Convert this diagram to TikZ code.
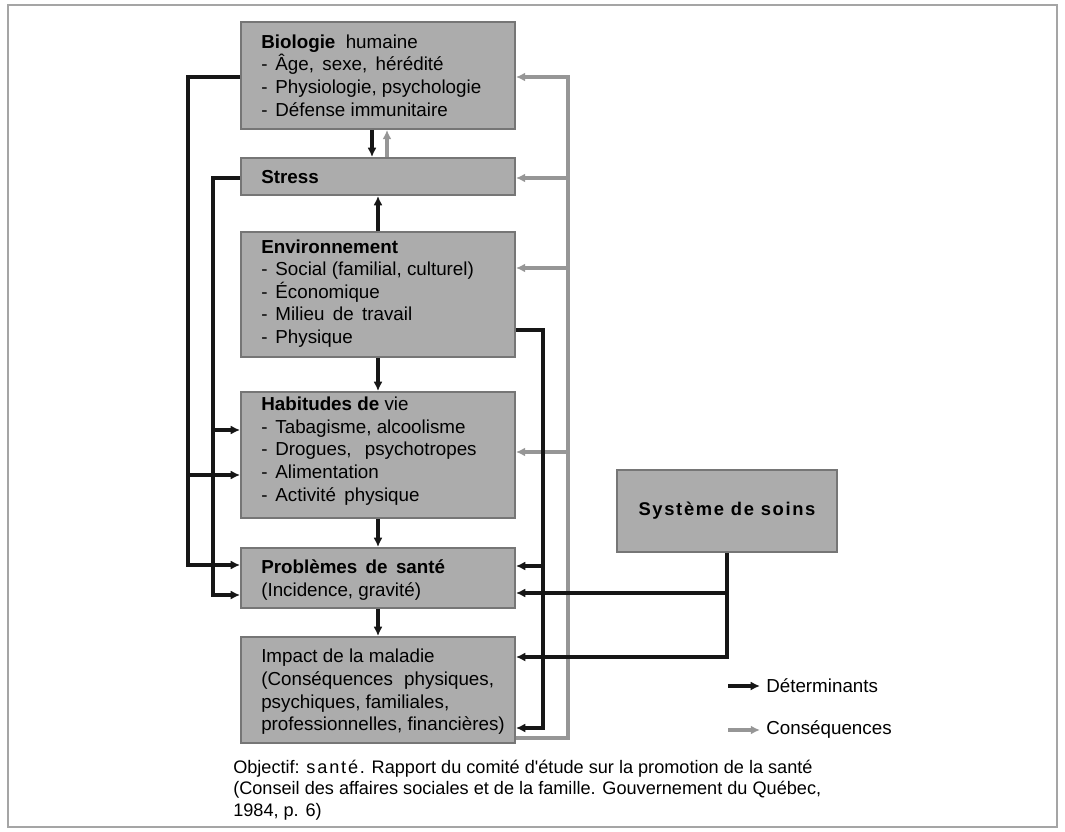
\documentclass[tikz,border=0pt]{standalone}
\usepackage{fontspec}
\setmainfont{Liberation Sans}
\usetikzlibrary{arrows.meta,calc}

\definecolor{boxfill}{RGB}{172,172,172}
\definecolor{boxedge}{RGB}{118,118,118}
\definecolor{detcol}{RGB}{22,22,22}
\definecolor{conscol}{RGB}{150,150,150}
\definecolor{framecol}{RGB}{165,165,165}

\tikzset{
  box/.style={draw=boxedge, fill=boxfill, line width=1.4pt, minimum width=205.5pt, inner sep=0pt},
  boxtext/.style={anchor=west, align=left, inner sep=0pt, font=\fontsize{14.1pt}{16.95pt}\selectfont},
  det/.style={draw=detcol, line width=2.6pt, -{Latex[length=7pt,width=6.8pt]}},
  cons/.style={draw=conscol, line width=2.5pt, -{Latex[length=6.8pt,width=6.6pt]}},
  legtext/.style={anchor=west, inner sep=0pt, font=\fontsize{14.1pt}{16.95pt}\selectfont},
}
\newcommand{\dsh}{-\hspace{0.42em}}

\begin{document}
\begin{tikzpicture}[x=0.75pt,y=-0.75pt]
\useasboundingbox (0,0) rectangle (1065,832);

% outer frame
\draw[framecol, line width=1.5pt] (8,5) rectangle (1057,827);

% determinant boxes
\node[box, minimum height=80.25pt] (bio) at (378,75.5) {};
\node[boxtext] (biot) at (261,75.5) {\textbf{Biologie}\hspace{0.55em}humaine\\
  \dsh Âge,\, sexe,\, hérédité\\
  \dsh Physiologie, psychologie\\
  \dsh Défense immunitaire};

\node[box, minimum height=27.75pt] (stress) at (378,176.5) {};
\node[boxtext] (stresst) at (261,177.5) {\textbf{Stress}};

\node[box, minimum height=93.75pt] (env) at (378,294.5) {};
\node[boxtext] (envt) at (261,293.5) {\textbf{Environnement}\\
  \dsh Social (familial, culturel)\\
  \dsh Économique\\
  \dsh Milieu\, de\, travail\\
  \dsh Physique};

\node[box, minimum height=94.5pt] (hab) at (378,455) {};
\node[boxtext] (habt) at (261,451) {\textbf{Habitudes de} vie\\
  \dsh Tabagisme, alcoolisme\\
  \dsh Drogues,\hspace{0.7em}psychotropes\\
  \dsh Alimentation\\
  \dsh Activité\, physique};

\node[box, minimum height=45pt] (prob) at (378,578) {};
\node[boxtext] (probt) at (261,580) {\textbf{Problèmes\, de\, santé}\\
  (Incidence, gravité)};

\node[box, minimum height=79.5pt] (impact) at (378,690) {};
\node[boxtext] (impactt) at (261,692) {Impact de la maladie\\
  (Conséquences\hspace{0.6em}physiques,\\
  psychiques, familiales,\\
  professionnelles, financières)};

\node[box, minimum width=165pt, minimum height=61.5pt] (soins) at (727,511)
  {\bfseries\fontsize{13.8pt}{16.95pt}\selectfont\addfontfeatures{LetterSpace=9}Système de soins};

% consequences (grey), drawn first so the black lines sit on top
\draw[cons] (stress.north -| 387,0) -- (bio.south -| 387,0);
\draw[cons] (impact.east |- 0,738) -| (568,77) -- (bio.east |- 0,77);
\draw[cons] (568,178) -- (stress.east |- 0,178);
\draw[cons] (568,268) -- (env.east |- 0,268);
\draw[cons] (568,452) -- (hab.east |- 0,452);

% determinants (black)
\draw[det] (bio.south -| 372,0) -- (stress.north -| 372,0);
\draw[det] (env.north) -- (stress.south);
\draw[det] (env.south) -- (hab.north);
\draw[det] (hab.south) -- (prob.north);
\draw[det] (prob.south) -- (impact.north);

\draw[det] (bio.west |- 0,77) -| (188,565) -- (prob.west |- 0,565);
\draw[det] (188,475) -- (hab.west |- 0,475);

\draw[det] (stress.west |- 0,178) -| (213,595) -- (prob.west |- 0,595);
\draw[det] (213,430) -- (hab.west |- 0,430);

\draw[det] (env.east |- 0,330) -| (543,728) -- (impact.east |- 0,728);
\draw[det] (543,566) -- (prob.east |- 0,566);

\draw[det] (soins.south) |- (impact.east |- 0,657);
\draw[det] (soins.south |- 0,593) -- (prob.east |- 0,593);

% legend
\node[legtext] (ldet) at (766,686) {Déterminants};
\node[legtext] (lcons) at (766,730) {Conséquences};
\coordinate (ld) at (728,686);
\coordinate (lc) at (728,730);
\draw[det] (ld) -- ([xshift=-4.5pt]ldet.west);
\draw[cons] (lc) -- ([xshift=-4.5pt]lcons.west);

% source
\node[anchor=west, align=left, inner sep=0pt,
      font=\fontsize{13.6pt}{16.1pt}\selectfont] (source) at (233,790)
  {Objectif: {\addfontfeatures{LetterSpace=10}santé.} Rapport du comité d\textquotesingle étude sur la promotion de la santé\\
   (Conseil des affaires sociales et de la famille. Gouvernement du Québec,\\
   1984, p. 6)};
\end{tikzpicture}
\end{document}
